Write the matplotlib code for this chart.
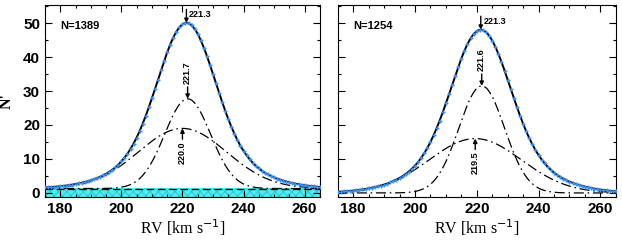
import numpy as np
import matplotlib
matplotlib.use('Agg')
import matplotlib.pyplot as plt

# values (RV in km/s, N' counts)
sample_size = [1389, 1254]
background = [1.3, 0.0]
band_top = [1.5, None]

# overall smoothed distribution: core + wing gaussian
total_center = [221.3, 221.3]
total_core_amp = [36.0, 35.0]
total_core_sig = [9.0, 9.0]
total_wing_amp = [12.7, 13.0]
total_wing_sig = [17.0, 17.0]

# the two dash-dot components
narrow_center = [221.7, 221.6]
narrow_amp = [26.4, 31.5]
narrow_sig = [7.5, 7.4]
wide_center = [220.0, 219.5]
wide_amp = [17.7, 16.0]
wide_sig = [14.5, 15.0]

peak_label = ['221.3', '221.3']
narrow_label = ['221.7', '221.6']
wide_label = ['220.0', '219.5']


def gauss(x, a, m, s):
    return a * np.exp(-(x - m) ** 2 / (2 * s ** 2))


plt.rcParams['font.family'] = ['Liberation Sans', 'DejaVu Sans']
plt.rcParams['hatch.linewidth'] = 0.6
fig = plt.figure(figsize=(6.22, 2.4), dpi=100)
ax1 = fig.add_axes([0.0723, 0.179, 0.442, 0.8])
ax2 = fig.add_axes([0.543, 0.179, 0.447, 0.8])

x = np.linspace(175, 265, 500)
xd = np.arange(175, 266, 1.0)
dashdot = (0, (8, 3, 1.3, 3))

for i, ax in enumerate([ax1, ax2]):
    bg = background[i]
    tot = lambda v: (bg + gauss(v, total_core_amp[i], total_center[i], total_core_sig[i])
                     + gauss(v, total_wing_amp[i], total_center[i], total_wing_sig[i]))
    if band_top[i] is not None:
        ax.fill_between([175, 265], -1.2, band_top[i], facecolor='#55eaf2',
                        edgecolor='#22c4d4', hatch='xxxx', linewidth=0, zorder=1)
        ax.axhline(bg, color='k', ls=(0, (6, 3)), lw=0.9, zorder=2)
    ax.plot(x, bg + gauss(x, narrow_amp[i], narrow_center[i], narrow_sig[i]),
            color='k', ls=dashdot, lw=0.9, zorder=3)
    ax.plot(x, bg + gauss(x, wide_amp[i], wide_center[i], wide_sig[i]),
            color='k', ls=dashdot, lw=0.9, zorder=3)
    ax.plot(x, tot(x), color='k', lw=1.4, zorder=4)
    ax.plot(xd, tot(xd), ls='none', marker='+', ms=3.2, mew=1.0,
            color='#3b8ff0', zorder=5)

    # annotations
    pk = tot(total_center[i])
    ax.annotate('', xy=(total_center[i], pk), xytext=(total_center[i], pk + 4),
                arrowprops=dict(arrowstyle='-|>', color='k', lw=1.0,
                                mutation_scale=6, shrinkA=0, shrinkB=0))
    ax.text(total_center[i] + 0.8, pk + 2.6, peak_label[i], fontsize=6.5,
            fontweight='bold', ha='left', va='center')
    npk = bg + narrow_amp[i]
    ax.annotate('', xy=(narrow_center[i], npk), xytext=(narrow_center[i], npk + 3.5),
                arrowprops=dict(arrowstyle='-|>', color='k', lw=1.0,
                                mutation_scale=6, shrinkA=0, shrinkB=0))
    ax.text(narrow_center[i], npk + 4.3, narrow_label[i], fontsize=6.5,
            fontweight='bold', rotation=90, ha='center', va='bottom')
    wpk = bg + wide_amp[i]
    ax.annotate('', xy=(wide_center[i], wpk), xytext=(wide_center[i], wpk - 3.2),
                arrowprops=dict(arrowstyle='-|>', color='k', lw=1.0,
                                mutation_scale=6, shrinkA=0, shrinkB=0))
    ax.text(wide_center[i], wpk - 3.8, wide_label[i], fontsize=6.5,
            fontweight='bold', rotation=90, ha='center', va='top')

    ax.text(180, 49.2, 'N=%d' % sample_size[i], fontsize=8, fontweight='bold',
            ha='left', va='center')

    ax.set_xlim(175, 265)
    ax.set_ylim(-1.2, 55.3)
    ax.set_xticks([180, 200, 220, 240, 260])
    ax.set_xticks(np.arange(175, 266, 5), minor=True)
    ax.set_yticks([0, 10, 20, 30, 40, 50])
    ax.set_yticks(np.arange(0, 56, 5), minor=True)
    ax.tick_params(which='both', direction='in', top=True, right=True,
                   labelsize=11, width=0.8)
    ax.tick_params(which='major', length=5)
    ax.tick_params(which='minor', length=2.5)
    for lab in ax.get_xticklabels() + ax.get_yticklabels():
        lab.set_fontweight('bold')
    ax.set_xlabel(r'RV [km s$^{-1}$]', fontsize=11.5,
                  family=['Liberation Serif', 'DejaVu Serif'], labelpad=1)
    for s in ax.spines.values():
        s.set_linewidth(0.8)

ax2.tick_params(labelleft=False)
ax1.set_ylabel("N'", fontsize=11.5,
               family=['Liberation Serif', 'DejaVu Serif'], fontweight='bold')
ax1.yaxis.set_label_coords(-0.11, 0.5)

fig.savefig('out.png', dpi=100)
